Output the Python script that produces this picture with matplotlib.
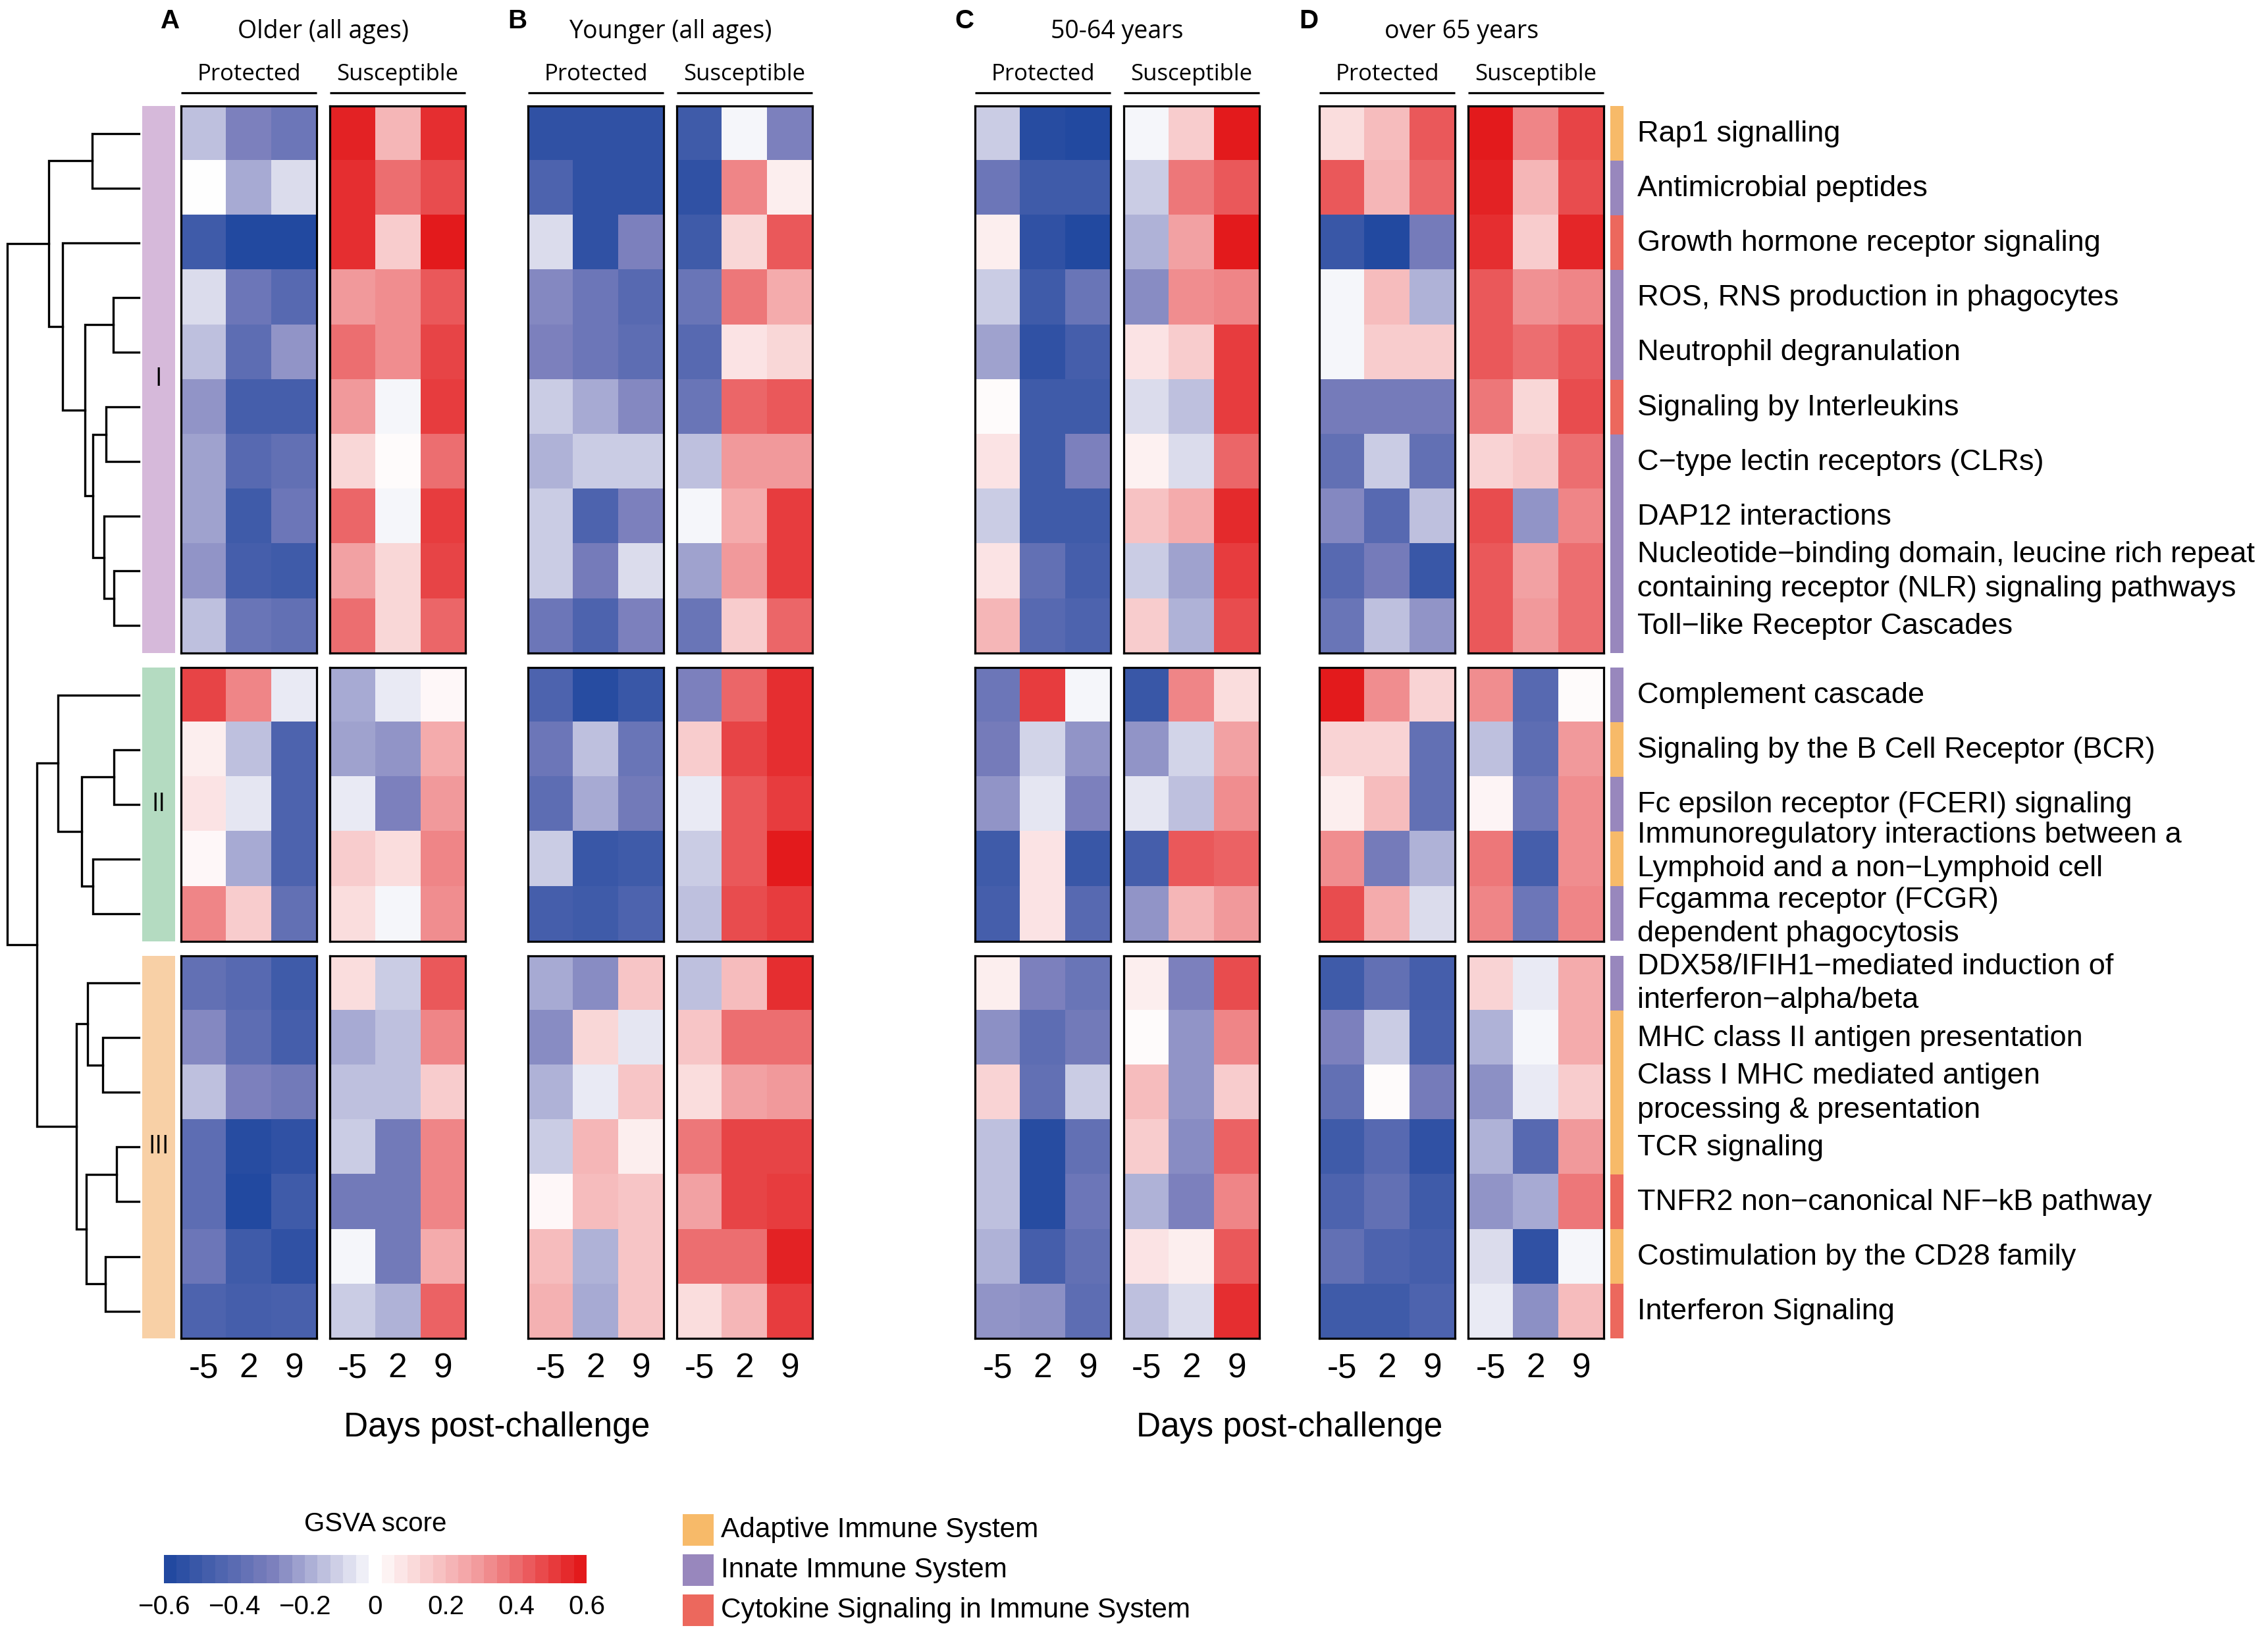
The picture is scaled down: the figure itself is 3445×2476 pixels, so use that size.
import matplotlib
matplotlib.use("Agg")
import matplotlib.pyplot as plt
import numpy as np
from matplotlib.colors import LinearSegmentedColormap
from matplotlib.patches import Rectangle
from matplotlib.cm import ScalarMappable
from matplotlib.colors import Normalize

# ---------------- data ----------------
pathways = [
    "Rap1 signalling",
    "Antimicrobial peptides",
    "Growth hormone receptor signaling",
    "ROS, RNS production in phagocytes",
    "Neutrophil degranulation",
    "Signaling by Interleukins",
    "C\u2212type lectin receptors (CLRs)",
    "DAP12 interactions",
    "Nucleotide\u2212binding domain, leucine rich repeat\ncontaining receptor (NLR) signaling pathways",
    "Toll\u2212like Receptor Cascades",
    "Complement cascade",
    "Signaling by the B Cell Receptor (BCR)",
    "Fc epsilon receptor (FCERI) signaling",
    "Immunoregulatory interactions between a\nLymphoid and a non\u2212Lymphoid cell",
    "Fcgamma receptor (FCGR)\ndependent phagocytosis",
    "DDX58/IFIH1\u2212mediated induction of\ninterferon\u2212alpha/beta",
    "MHC class II antigen presentation",
    "Class I MHC mediated antigen\nprocessing & presentation",
    "TCR signaling",
    "TNFR2 non\u2212canonical NF\u2212kB pathway",
    "Costimulation by the CD28 family",
    "Interferon Signaling",
]
categories = ["Adaptive", "Innate", "Cytokine", "Innate", "Innate", "Cytokine", "Innate",
              "Innate", "Innate", "Innate",
              "Innate", "Adaptive", "Innate", "Adaptive", "Innate",
              "Innate", "Adaptive", "Adaptive", "Adaptive", "Cytokine", "Adaptive", "Cytokine"]
category_names = ["Adaptive Immune System", "Innate Immune System", "Cytokine Signaling in Immune System"]
category_keys = ["Adaptive", "Innate", "Cytokine"]
section_names = ["I", "II", "III"]
section_sizes = [10, 5, 7]
days = ["-5", "2", "9"]
groups = ["Protected", "Susceptible"]
panel_letters = ["A", "B", "C", "D"]
panel_titles = ["Older (all ages)", "Younger (all ages)", "50-64 years", "over 65 years"]

older_prot = [
    [-0.15, -0.30, -0.35], [0.00, -0.20, -0.08], [-0.50, -0.60, -0.60], [-0.08, -0.35, -0.42],
    [-0.15, -0.40, -0.25], [-0.25, -0.48, -0.48], [-0.22, -0.42, -0.38], [-0.22, -0.50, -0.35],
    [-0.25, -0.48, -0.50], [-0.15, -0.36, -0.38],
    [0.50, 0.35, -0.05], [0.05, -0.15, -0.45], [0.08, -0.06, -0.45], [0.02, -0.20, -0.45],
    [0.35, 0.15, -0.38],
    [-0.38, -0.42, -0.50], [-0.28, -0.40, -0.48], [-0.15, -0.30, -0.33], [-0.40, -0.58, -0.55],
    [-0.40, -0.60, -0.50], [-0.35, -0.50, -0.55], [-0.45, -0.48, -0.47],
]
older_sus = [
    [0.58, 0.22, 0.55], [0.55, 0.40, 0.48], [0.55, 0.15, 0.60], [0.30, 0.33, 0.45],
    [0.40, 0.33, 0.50], [0.30, -0.02, 0.52], [0.12, 0.01, 0.40], [0.42, -0.02, 0.52],
    [0.28, 0.12, 0.50], [0.40, 0.12, 0.42],
    [-0.20, -0.05, 0.02], [-0.22, -0.25, 0.25], [-0.05, -0.30, 0.30], [0.15, 0.10, 0.35],
    [0.10, -0.02, 0.33],
    [0.10, -0.12, 0.45], [-0.20, -0.15, 0.35], [-0.15, -0.15, 0.15], [-0.12, -0.33, 0.35],
    [-0.33, -0.33, 0.35], [-0.02, -0.33, 0.25], [-0.12, -0.18, 0.43],
]
younger_prot = [
    [-0.55, -0.55, -0.55], [-0.45, -0.55, -0.55], [-0.08, -0.55, -0.30], [-0.28, -0.35, -0.42],
    [-0.30, -0.35, -0.40], [-0.12, -0.20, -0.28], [-0.18, -0.12, -0.12], [-0.12, -0.45, -0.30],
    [-0.12, -0.32, -0.08], [-0.35, -0.45, -0.30],
    [-0.45, -0.58, -0.52], [-0.35, -0.15, -0.36], [-0.40, -0.20, -0.33], [-0.12, -0.52, -0.50],
    [-0.48, -0.50, -0.45],
    [-0.20, -0.27, 0.17], [-0.27, 0.12, -0.06], [-0.18, -0.05, 0.17], [-0.12, 0.22, 0.05],
    [0.02, 0.20, 0.17], [0.20, -0.18, 0.17], [0.23, -0.20, 0.17],
]
younger_sus = [
    [-0.50, -0.02, -0.30], [-0.55, 0.35, 0.05], [-0.50, 0.12, 0.45], [-0.36, 0.38, 0.25],
    [-0.42, 0.08, 0.12], [-0.36, 0.42, 0.45], [-0.15, 0.30, 0.30], [-0.02, 0.25, 0.52],
    [-0.22, 0.30, 0.52], [-0.36, 0.15, 0.42],
    [-0.30, 0.42, 0.55], [0.15, 0.50, 0.55], [-0.05, 0.45, 0.52], [-0.12, 0.45, 0.62],
    [-0.15, 0.48, 0.52],
    [-0.15, 0.20, 0.55], [0.17, 0.40, 0.40], [0.10, 0.28, 0.30], [0.38, 0.50, 0.50],
    [0.28, 0.50, 0.52], [0.40, 0.40, 0.58], [0.10, 0.22, 0.52],
]
mid_prot = [
    [-0.12, -0.58, -0.60], [-0.35, -0.50, -0.50], [0.05, -0.55, -0.60], [-0.12, -0.50, -0.36],
    [-0.22, -0.55, -0.48], [0.01, -0.50, -0.50], [0.08, -0.50, -0.30], [-0.12, -0.50, -0.50],
    [0.08, -0.38, -0.48], [0.22, -0.42, -0.45],
    [-0.35, 0.52, -0.02], [-0.32, -0.10, -0.25], [-0.25, -0.06, -0.30], [-0.50, 0.08, -0.52],
    [-0.48, 0.08, -0.42],
    [0.05, -0.30, -0.36], [-0.26, -0.40, -0.33], [0.13, -0.38, -0.12], [-0.15, -0.58, -0.38],
    [-0.15, -0.58, -0.35], [-0.18, -0.48, -0.38], [-0.25, -0.26, -0.40],
]
mid_sus = [
    [-0.02, 0.15, 0.60], [-0.12, 0.38, 0.45], [-0.18, 0.28, 0.62], [-0.27, 0.33, 0.35],
    [0.08, 0.15, 0.52], [-0.08, -0.15, 0.52], [0.04, -0.08, 0.42], [0.18, 0.25, 0.56],
    [-0.12, -0.22, 0.52], [0.15, -0.18, 0.48],
    [-0.52, 0.35, 0.10], [-0.25, -0.10, 0.28], [-0.06, -0.15, 0.33], [-0.48, 0.45, 0.43],
    [-0.25, 0.22, 0.30],
    [0.05, -0.30, 0.48], [0.01, -0.25, 0.35], [0.20, -0.25, 0.15], [0.15, -0.27, 0.43],
    [-0.18, -0.30, 0.35], [0.08, 0.05, 0.45], [-0.15, -0.08, 0.55],
]
over65_prot = [
    [0.10, 0.20, 0.45], [0.45, 0.22, 0.42], [-0.52, -0.60, -0.32], [-0.02, 0.20, -0.18],
    [-0.02, 0.15, 0.15], [-0.32, -0.32, -0.32], [-0.38, -0.12, -0.38], [-0.28, -0.42, -0.15],
    [-0.42, -0.32, -0.52], [-0.36, -0.15, -0.25],
    [0.62, 0.33, 0.13], [0.13, 0.13, -0.38], [0.05, 0.20, -0.38], [0.33, -0.32, -0.18],
    [0.48, 0.25, -0.08],
    [-0.50, -0.38, -0.48], [-0.30, -0.12, -0.47], [-0.38, 0.01, -0.32], [-0.50, -0.42, -0.55],
    [-0.45, -0.38, -0.50], [-0.38, -0.45, -0.48], [-0.50, -0.50, -0.45],
]
over65_sus = [
    [0.60, 0.35, 0.50], [0.58, 0.22, 0.48], [0.55, 0.15, 0.57], [0.45, 0.32, 0.35],
    [0.45, 0.40, 0.45], [0.38, 0.12, 0.48], [0.13, 0.16, 0.40], [0.48, -0.25, 0.35],
    [0.45, 0.28, 0.40], [0.45, 0.30, 0.40],
    [0.33, -0.42, 0.01], [-0.15, -0.40, 0.30], [0.03, -0.35, 0.33], [0.38, -0.48, 0.33],
    [0.35, -0.35, 0.35],
    [0.13, -0.05, 0.25], [-0.18, -0.02, 0.25], [-0.26, -0.05, 0.15], [-0.18, -0.42, 0.30],
    [-0.25, -0.20, 0.38], [-0.08, -0.55, -0.02], [-0.05, -0.26, 0.20],
]
panels = [(older_prot, older_sus), (younger_prot, younger_sus),
          (mid_prot, mid_sus), (over65_prot, over65_sus)]

# row dendrogram, scipy-like merges: (child a, child b, height); new ids start at 22
merges = [
    (0, 1, 0.357), (3, 4, 0.193), (5, 6, 0.252), (8, 9, 0.189), (7, 25, 0.265),
    (24, 26, 0.349), (23, 27, 0.412), (2, 28, 0.580), (22, 29, 0.685),
    (11, 12, 0.189), (13, 14, 0.349), (31, 32, 0.433), (10, 33, 0.613),
    (16, 17, 0.277), (15, 35, 0.391), (18, 19, 0.168), (20, 21, 0.256),
    (37, 38, 0.399), (36, 39, 0.475), (34, 40, 0.777), (30, 41, 1.000),
]

# ---------------- style / layout ----------------
W, H = 3445, 2476
ARIAL = ["Liberation Sans", "DejaVu Sans"]
SEGOE = ["Open Sans", "DejaVu Sans"]
cat_colors = {"Adaptive": "#f7ba69", "Innate": "#9887bd", "Cytokine": "#ec685d"}
sec_colors = ["#d6b9da", "#b4dbc1", "#f8d0a6"]
cmap = LinearSegmentedColormap.from_list(
    "gsva", [(0, "#2249a0"), (0.25, "#7c80bd"), (0.5, "#ffffff"),
             (0.75, "#f29b9d"), (1, "#e31a1c")])

panel_x = [275, 802, 1481, 2004]
block_w, block_gap = 206, 20
top, row_h, sec_gap = 161, 83.1, 22
frame_lw = 2.3
label_nudge = {13: -12, 14: 4}   # keep the two wrapped labels apart, as in the figure

sec_start = np.concatenate([[0], np.cumsum(section_sizes)[:-1]])
sec_of_row = np.repeat(np.arange(len(section_sizes)), section_sizes)
row_top = top + np.arange(len(pathways)) * row_h + sec_of_row * sec_gap
row_mid = row_top + row_h / 2


def px_rect(x, y, w, h):
    return [x / W, 1 - (y + h) / H, w / W, h / H]


fig = plt.figure(figsize=(W / 100, H / 100), dpi=100)
ax0 = fig.add_axes([0, 0, 1, 1])
ax0.set_xlim(0, W)
ax0.set_ylim(H, 0)
ax0.axis("off")

# heatmap blocks
for p, (letter, title, pair) in enumerate(zip(panel_letters, panel_titles, panels)):
    x_p = panel_x[p]
    ax0.text(x_p - 16, 43, letter, fontsize=29, fontweight="bold", family=ARIAL,
             ha="center", va="baseline")
    ax0.text(x_p + block_w + block_gap / 2, 58, title, fontsize=27, family=SEGOE,
             ha="center", va="baseline")
    for g, (gname, vals) in enumerate(zip(groups, pair)):
        x0 = x_p + g * (block_w + block_gap)
        vals = np.array(vals)
        ax0.text(x0 + block_w / 2, 122, gname, fontsize=25, family=SEGOE,
                 ha="center", va="baseline")
        ax0.plot([x0, x0 + block_w], [141, 141], color="black", lw=frame_lw,
                 solid_capstyle="butt")
        for s, n in enumerate(section_sizes):
            r0 = sec_start[s]
            ax = fig.add_axes(px_rect(x0, row_top[r0], block_w, n * row_h))
            ax.imshow(vals[r0:r0 + n], cmap=cmap, vmin=-0.6, vmax=0.6,
                      aspect="auto", interpolation="nearest")
            ax.set_yticks([])
            for sp in ax.spines.values():
                sp.set_linewidth(frame_lw)
            if s == len(section_sizes) - 1:
                ax.set_xticks(range(len(days)), days)
                ax.tick_params(axis="x", length=0, pad=15, labelsize=37)
                for t in ax.get_xticklabels():
                    t.set_family(ARIAL)
            else:
                ax.set_xticks([])

for cx in [(panel_x[0] + panel_x[1] + 2 * block_w + block_gap) / 2,
           (panel_x[2] + panel_x[3] + 2 * block_w + block_gap) / 2]:
    ax0.text(cx, 2182, "Days post-challenge", fontsize=37, family=ARIAL,
             ha="center", va="baseline")

# cluster side bar
for s, (name, n) in enumerate(zip(section_names, section_sizes)):
    r0 = sec_start[s]
    ax0.add_patch(Rectangle((216, row_top[r0]), 50, n * row_h,
                            facecolor=sec_colors[s], edgecolor="none"))
    ax0.text(241, row_top[r0] + n * row_h / 2, name, fontsize=27, family=SEGOE,
             ha="center", va="center")

# category bar and row labels
for i, (label, cat) in enumerate(zip(pathways, categories)):
    ax0.add_patch(Rectangle((2446, row_top[i]), 20, row_h,
                            facecolor=cat_colors[cat], edgecolor="none"))
    ax0.text(2487, row_mid[i] + 1 + label_nudge.get(i, 0), label, fontsize=32.5,
             family=ARIAL, ha="left", va="center", linespacing=1.33)

# dendrogram
leaf_x, root_x = 211, 11
pos = {i: (leaf_x, row_mid[i]) for i in range(len(pathways))}
for k, (a, b, h) in enumerate(merges):
    xh = leaf_x - h * (leaf_x - root_x)
    (xa, ya), (xb, yb) = pos[a], pos[b]
    ax0.plot([xa, xh, xh, xb], [ya, ya, yb, yb], color="black", lw=2.4,
             solid_joinstyle="miter")
    pos[len(pathways) + k] = (xh, (ya + yb) / 2)

# category legend
for j, (key, name) in enumerate(zip(category_keys, category_names)):
    y_j = 2300 + j * 61
    ax0.add_patch(Rectangle((1037, y_j), 47, 48, facecolor=cat_colors[key],
                            edgecolor="none"))
    ax0.text(1095, y_j + 24, name, fontsize=30.5, family=ARIAL, ha="left", va="center")

# colour bar
ax0.text(570, 2326, "GSVA score", fontsize=29, family=ARIAL, ha="center",
         va="baseline")
cax = fig.add_axes(px_rect(249, 2362, 642, 43))
sm = ScalarMappable(norm=Normalize(-0.6, 0.6), cmap=cmap.resampled(33))
cb = fig.colorbar(sm, cax=cax, orientation="horizontal")
cb.outline.set_visible(False)
cb_ticks = [-0.6, -0.4, -0.2, 0, 0.2, 0.4, 0.6]
cb.set_ticks(cb_ticks)
cb.set_ticklabels(["\u22120.6", "\u22120.4", "\u22120.2", "0", "0.2", "0.4", "0.6"])
cax.tick_params(length=0, pad=12, labelsize=29)
for t in cax.get_xticklabels():
    t.set_family(ARIAL)

fig.savefig("out.png", dpi=100)
